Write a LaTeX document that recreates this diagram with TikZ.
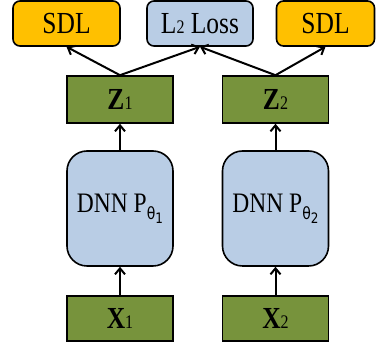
\documentclass[tikz,border=0pt]{standalone}
\usepackage{fontspec}
\setmainfont{Liberation Serif}
\newfontfamily\dvfont{DejaVu Sans}
\usetikzlibrary{arrows.meta}
\definecolor{sdlorange}{HTML}{FFC000}
\definecolor{lblue}{HTML}{B9CDE5}
\definecolor{dgreen}{HTML}{77933C}
\tikzset{
  box/.style={draw=black, line width=1.6pt, inner sep=0pt, minimum height=45pt},
  toporange/.style={box, fill=sdlorange, rounded corners=7pt, font=\fontsize{25.5}{25.5}\selectfont},
  topblue/.style={box, fill=lblue, rounded corners=7pt, font=\fontsize{25.5}{25.5}\selectfont},
  greenbox/.style={box, fill=dgreen, minimum width=106pt, font=\fontsize{25.5}{25.5}\selectfont\bfseries},
  dnnbox/.style={box, fill=lblue, rounded corners=20pt, minimum width=106pt, minimum height=115pt, font=\fontsize{23.5}{23.5}\selectfont},
  arr/.style={line width=2pt, -{Straight Barb[length=6pt,width=10pt]}}
}
\newcommand{\tall}[1]{\scalebox{1}[1.2]{#1}}
\newcommand{\subnum}[1]{{\fontsize{16}{16}\selectfont\mdseries #1}}
\newcommand{\thsub}[1]{\raisebox{-6pt}{\dvfont\fontsize{14}{14}\selectfont θ\raisebox{-3pt}{\fontsize{12}{12}\selectfont #1}}}
\begin{document}
\begin{tikzpicture}[x=1pt,y=-1pt]
\useasboundingbox (0,0) rectangle (376,347);
\node[toporange, minimum width=107pt] (sdl1) at (66.5,23.5) {\tall{SDL}};
\node[topblue, minimum width=106pt] (l2) at (200,23.5) {\tall{L\subnum{2} Loss}};
\node[toporange, minimum width=98pt] (sdl2) at (325.5,23.5) {\tall{SDL}};
\node[greenbox, minimum height=47pt] (z1) at (120,99.5) {\tall{Z\subnum{1}}};
\node[greenbox, minimum height=47pt] (z2) at (275.5,99.5) {\tall{Z\subnum{2}}};
\node[dnnbox] (d1) at (120,208.5) {\tall{DNN P\thsub{1}}};
\node[dnnbox] (d2) at (275.5,208.5) {\tall{DNN P\thsub{2}}};
\node[greenbox] (x1) at (120,318.5) {\tall{X\subnum{1}}};
\node[greenbox] (x2) at (275.5,318.5) {\tall{X\subnum{2}}};
\draw[arr] (x1) -- (d1);
\draw[arr] (x2) -- (d2);
\draw[arr] (d1) -- (z1);
\draw[arr] (d2) -- (z2);
\draw[arr] (z1.north) -- (sdl1.south);
\draw[arr] (z1.north) -- (l2.south);
\draw[arr] (z2.north) -- (l2.south);
\draw[arr] (z2.north) -- (sdl2.south);
\end{tikzpicture}
\end{document}
